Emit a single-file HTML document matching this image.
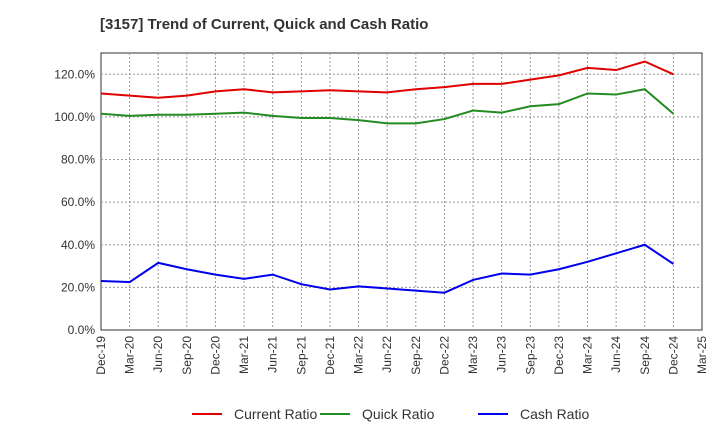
<!DOCTYPE html>
<html><head><meta charset="utf-8"><style>
body{margin:0;background:#fff;font-family:"Liberation Sans",sans-serif;}
</style></head><body>
<svg id="chart" width="720" height="440" xmlns="http://www.w3.org/2000/svg">
<text x="100" y="29" font-size="15" font-weight="bold" fill="#333">[3157]  Trend of Current, Quick and Cash Ratio</text>
<g id="grid"></g><g id="axes"></g><g id="series"></g><g id="legend"></g>
</svg>
<script>
const xLabels=["Dec-19","Mar-20","Jun-20","Sep-20","Dec-20","Mar-21","Jun-21","Sep-21","Dec-21","Mar-22","Jun-22","Sep-22","Dec-22","Mar-23","Jun-23","Sep-23","Dec-23","Mar-24","Jun-24","Sep-24","Dec-24","Mar-25"];
const yTicks=[0,20,40,60,80,100,120];
const currentRatio=[111,110,109,110,112,113,111.5,112,112.5,112,111.5,113,114,115.5,115.5,117.5,119.5,123,122,126,120];
const quickRatio=[101.5,100.5,101,101,101.5,102,100.5,99.5,99.5,98.5,97,97,99,103,102,105,106,111,110.5,113,101.5];
const cashRatio=[23,22.5,31.5,28.5,26,24,26,21.5,19,20.5,19.5,18.5,17.5,23.5,26.5,26,28.5,32,36,40,31];
const L=101,R=702,T=53,B=330,YMAX=130;
const NS="http://www.w3.org/2000/svg";
const xs=i=>L+i*(R-L)/(xLabels.length-1);
const ys=v=>B-v*(B-T)/YMAX;
function mk(tag,attrs,parent){const e=document.createElementNS(NS,tag);for(const k in attrs)e.setAttribute(k,attrs[k]);document.getElementById(parent).appendChild(e);return e;}
mk('rect',{x:L,y:T,width:R-L,height:B-T,fill:'#fff',stroke:'#333','stroke-width':1},'grid');
xLabels.forEach((lab,i)=>{
 const x=xs(i);
 if(i>0&&i<xLabels.length-1){const g=mk('line',{x1:x,y1:T,x2:x,y2:B,stroke:'#999','stroke-dasharray':'2,2','stroke-width':1},'grid');
 
 }
 const t=mk('text',{x:0,y:0,'font-size':12,fill:'#333','text-anchor':'end',transform:`translate(${x+4},${B+6}) rotate(-90)`},'axes');
 t.textContent=lab;
 
 
});
yTicks.forEach(v=>{
 const y=ys(v);
 if(v>0){const g=mk('line',{x1:L,y1:y,x2:R,y2:y,stroke:'#999','stroke-dasharray':'2,2'},'grid');
 
 }
 const t=mk('text',{x:L-6,y:y+4,'font-size':12,fill:'#333','text-anchor':'end'},'axes');
 t.textContent=v.toFixed(1)+'%';
 
 
});
const series=[["Current Ratio",currentRatio,"#e00000","current-ratio-line"],["Quick Ratio",quickRatio,"#228b22","quick-ratio-line"],["Cash Ratio",cashRatio,"#0000ee","cash-ratio-line"]];
series.forEach(([n,d,c,name])=>{
 const p=mk('polyline',{points:d.map((v,i)=>xs(i)+','+ys(v)).join(' '),fill:'none',stroke:c,'stroke-width':2},'series');
 
 
});
const lx=[192,320,478];
series.forEach(([n,d,c],k)=>{
 const l=mk('line',{x1:lx[k],y1:414,x2:lx[k]+30,y2:414,stroke:c,'stroke-width':2},'legend');
 
 
 const t=mk('text',{x:lx[k]+42,y:419,'font-size':14,fill:'#333'},'legend');
 t.textContent=n;
 
 
});
</script>
</body></html>
